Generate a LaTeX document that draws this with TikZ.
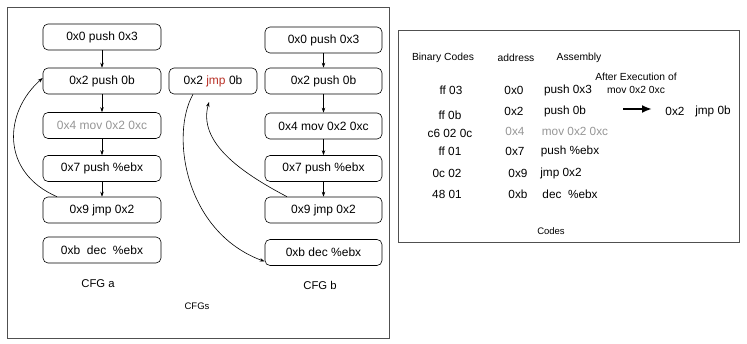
\documentclass[tikz,border=0pt]{standalone}
\usepackage{fontspec}
\setmainfont{Liberation Sans}
\usetikzlibrary{arrows.meta}
\definecolor{greytxt}{RGB}{150,150,150}
\definecolor{redtxt}{RGB}{185,50,40}
\definecolor{framecol}{RGB}{80,80,80}
\begin{document}
\begin{tikzpicture}[x=1pt,y=-1pt,
  insbox/.style={draw=black,line width=0.6pt,rounded corners=5pt,minimum height=26pt,inner sep=0pt,font=\fontsize{12}{14}\selectfont},
  lbox/.style={insbox,minimum width=118pt},
  rbox/.style={insbox,minimum width=117pt},
  flow/.style={-{Stealth[length=5pt,width=3.5pt]},line width=0.6pt},
  frame/.style={draw=framecol,line width=0.8pt},
  hdr/.style={font=\fontsize{10.3}{12}\selectfont,inner sep=0pt},
  dat/.style={font=\fontsize{11.8}{14}\selectfont,inner sep=0pt},
  captext/.style={font=\fontsize{11.3}{13}\selectfont,inner sep=0pt},
  small/.style={font=\fontsize{9.5}{11}\selectfont,inner sep=0pt}]
\useasboundingbox (0,0) rectangle (747,344);
\fill[white] (0,0) rectangle (747,344);
% frames
\draw[frame] (7,7) rectangle (389,338);
\draw[frame] (398,30) rectangle (739,242);
% CFG a
\node[lbox] (l1) at (102,37) {0x0 push 0x3};
\node[lbox] (l2) at (102,81) {0x2 push 0b};
\node[lbox,text=greytxt] (l3) at (102,125.5) {0x4 mov 0x2 0xc};
\node[lbox] (l4) at (102,168.5) {0x7 push \%ebx};
\node[lbox] (l5) at (102,210) {0x9 jmp 0x2};
\node[lbox] (l6) at (102,250) {0xb\ \ dec\ \ \%ebx};
\draw[flow] (l1) -- (l2);
\draw[flow] (l2) -- (l3);
\draw[flow] (l3) -- (l4);
\draw[flow] (l4) -- (l5);
\coordinate (la) at ([xshift=-45pt]l5.north);
\coordinate (lb) at ([yshift=3pt]l2.west);
\draw[flow] (la) .. controls (0,172) and (4,112) .. (lb);
% middle
\node[insbox,minimum width=88pt] (m) at (213,81) {0x2 \textcolor{redtxt}{jmp} 0b};
% CFG b
\node[rbox] (r1) at (323.5,40) {0x0 push 0x3};
\node[rbox] (r2) at (323.5,81) {0x2 push 0b};
\node[rbox] (r3) at (323.5,126) {0x4 mov 0x2 0xc};
\node[rbox] (r4) at (323.5,168.5) {0x7 push \%ebx};
\node[rbox] (r5) at (323.5,210) {0x9 jmp 0x2};
\node[rbox] (r6) at (323.5,252.5) {0xb dec \%ebx};
\draw[flow] (r1) -- (r2);
\draw[flow] (r2) -- (r3);
\draw[flow] (r3) -- (r4);
\draw[flow] (r4) -- (r5);
\coordinate (ma) at ([xshift=-20pt]m.south);
\coordinate (mb) at ([yshift=-9pt]r6.west);
\draw[flow] (ma) .. controls (170,135) and (185,232) .. (mb);
\coordinate (ra) at ([xshift=-36.5pt]r5.north);
\coordinate (rb) at (209,102);
\draw[flow] (ra) .. controls (240,172) and (198,142) .. (rb);
% captions
\node[captext] (capa) at (98,284) {CFG a};
\node[captext] (capb) at (320,285) {CFG b};
\node[small] (cfgs) at (197,306) {CFGs};
% Codes panel
\node[hdr] (h1) at (443,58) {Binary Codes};
\node[hdr] (h2) at (516,58) {address};
\node[hdr] (h3) at (579,58) {Assembly};
\node[hdr] (h4) at (636,77) {After Execution of};
\node[hdr] (h5) at (636,90) {mov 0x2 0xc};
\node[dat] (b1) at (451,90) {ff 03};
\node[dat] (a1) at (514,90) {0x0};
\node[dat] (s1) at (568,90) {push 0x3};
\node[dat] (b2) at (450,115) {ff 0b};
\node[dat] (a2) at (514,111) {0x2};
\node[dat] (s2) at (565,111) {push 0b};
\node[dat] (b3) at (450,133) {c6 02 0c};
\node[dat,text=greytxt] (a3) at (515,131) {0x4};
\node[dat,text=greytxt] (s3) at (575,131) {mov 0x2 0xc};
\node[dat] (b4) at (450,151) {ff 01};
\node[dat] (a4) at (515,151) {0x7};
\node[dat] (s4) at (570,151) {push \%ebx};
\node[dat] (b5) at (447,173) {0c 02};
\node[dat] (a5) at (518,173) {0x9};
\node[dat] (s5) at (561,173) {jmp 0x2};
\node[dat] (b6) at (447,194) {48 01};
\node[dat] (a6) at (518,194) {0xb};
\node[dat] (s6) at (570,194) {dec\ \ \%ebx};
\node[dat] (x1) at (675,111) {0x2};
\node[dat] (x2) at (713,111) {jmp 0b};
\coordinate (ar1) at (623,109);
\coordinate (ar2) at (652,109);
\draw[-{Latex[length=10pt,width=8pt]},line width=2pt] (ar1) -- (ar2);
\node[small] (codes) at (551,231) {Codes};
\end{tikzpicture}
\end{document}
